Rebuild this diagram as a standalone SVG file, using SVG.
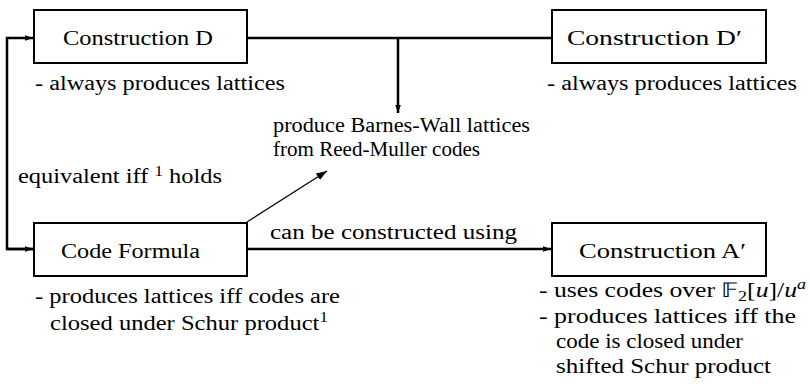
<svg xmlns="http://www.w3.org/2000/svg" width="810" height="387" viewBox="0 0 810 387">
<defs>
<style>
.t{font-family:"Liberation Serif","Times New Roman",serif;font-size:20px;fill:#000}
.box{fill:#fff;stroke:#000;stroke-width:2}
.thick{fill:none;stroke:#000;stroke-width:2.5}
.thin{fill:none;stroke:#000;stroke-width:1.2}
.sup{font-size:14px}
</style>
<marker id="ah" viewBox="0 0 10 10" refX="10" refY="5" markerWidth="3.4" markerHeight="3.4" orient="auto" markerUnits="strokeWidth"><path d="M0,1.5 L10,5 L0,8.5 z" fill="#000"/></marker>
<marker id="ahs" viewBox="0 0 10 10" refX="10" refY="5" markerWidth="9" markerHeight="9" orient="auto" markerUnits="strokeWidth"><path d="M0,1.5 L10,5 L0,8.5 z" fill="#000"/></marker>
</defs>
<rect width="810" height="387" fill="#fff"/>
<g id="connectors">
<path class="thick" d="M247,38 H552"/>
<path class="thick" d="M398,38 V113" marker-end="url(#ah)"/>
<path class="thick" d="M33,249 H7 V38 H33" marker-end="url(#ah)"/>
<path class="thick" d="M7,249 H33" marker-end="url(#ah)"/>
<path class="thick" d="M247,249 H551" marker-end="url(#ah)"/>
<path class="thin" d="M247,222 L327,171" marker-end="url(#ahs)"/>
<text class="t" x="273" y="132" textLength="257" lengthAdjust="spacingAndGlyphs">produce Barnes-Wall lattices</text>
<text class="t" x="273" y="156" textLength="207" lengthAdjust="spacingAndGlyphs">from Reed-Muller codes</text>
<text class="t" x="18" y="183" textLength="204" lengthAdjust="spacingAndGlyphs">equivalent iff <tspan class="sup" dy="-7">1</tspan><tspan dy="7"> holds</tspan></text>
<text class="t" x="270" y="239" textLength="247" lengthAdjust="spacingAndGlyphs">can be constructed using</text>
</g>
<g id="nodeD">
<rect class="box" x="34" y="10" width="213" height="53"/>
<text class="t" x="63" y="45" textLength="150" lengthAdjust="spacingAndGlyphs">Construction D</text>
<text class="t" x="35" y="90" textLength="250" lengthAdjust="spacingAndGlyphs">- always produces lattices</text>
</g>
<g id="nodeDp">
<rect class="box" x="552" y="10" width="214" height="53"/>
<text class="t" x="567" y="45" textLength="175" lengthAdjust="spacingAndGlyphs">Construction D′</text>
<text class="t" x="547" y="90" textLength="250" lengthAdjust="spacingAndGlyphs">- always produces lattices</text>
</g>
<g id="nodeCF">
<rect class="box" x="34" y="223" width="213" height="53"/>
<text class="t" x="61" y="258" textLength="139" lengthAdjust="spacingAndGlyphs">Code Formula</text>
<text class="t" x="35" y="303" textLength="305" lengthAdjust="spacingAndGlyphs">- produces lattices iff codes are</text>
<text class="t" x="50" y="330" textLength="278" lengthAdjust="spacingAndGlyphs">closed under Schur product<tspan class="sup" dy="-8">1</tspan></text>
</g>
<g id="nodeAp">
<rect class="box" x="552" y="223" width="214" height="53"/>
<text class="t" x="579" y="258" textLength="167" lengthAdjust="spacingAndGlyphs">Construction A′</text>
<text class="t" x="539" y="297" textLength="267" lengthAdjust="spacingAndGlyphs">- uses codes over 𝔽<tspan class="sup" dy="4">2</tspan><tspan dy="-4">[</tspan><tspan font-style="italic">u</tspan>]/<tspan font-style="italic">u</tspan><tspan class="sup" font-style="italic" dy="-8">a</tspan></text>
<text class="t" x="539" y="323" textLength="257" lengthAdjust="spacingAndGlyphs">- produces lattices iff the</text>
<text class="t" x="556" y="348" textLength="187" lengthAdjust="spacingAndGlyphs">code is closed under</text>
<text class="t" x="556" y="373" textLength="215" lengthAdjust="spacingAndGlyphs">shifted Schur product</text>
</g>
</svg>
